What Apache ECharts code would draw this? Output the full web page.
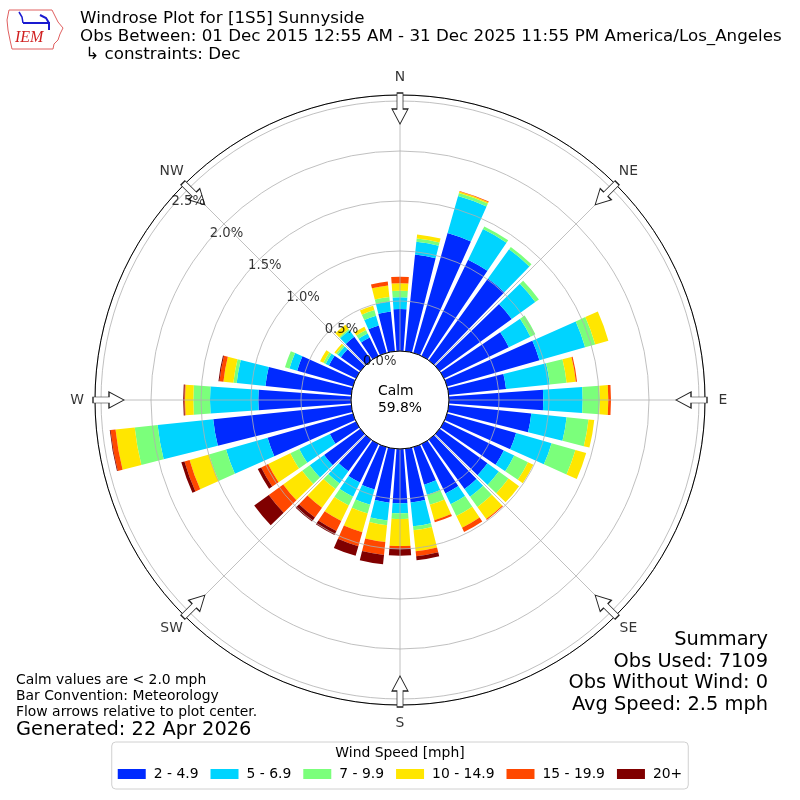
<!DOCTYPE html>
<html><head><meta charset="utf-8">
<script src="https://cdn.jsdelivr.net/npm/echarts@6/dist/echarts.min.js"></script>
<style>html,body{margin:0;padding:0;background:#fff}#c{width:800px;height:800px}</style>
</head><body><div id="c"></div>
<script>
// ---- data (percent of observations) ----
const directions = ['0','10','20','30','40','50','60','70','80','90','100','110','120','130','140','150','160','170',
  '180','190','200','210','220','230','240','250','260','270','280','290','300','310','320','330','340','350'];
const speedBins = ['2 - 4.9','5 - 6.9','7 - 9.9','10 - 14.9','15 - 19.9','20+'];
const binColors = ['#002aff','#00d4ff','#7bff7b','#ffe600','#ff4800','#800000'];
const bin2to5 = [0.42,0.972,1.247,1.07,1.01,0.89,0.72,0.96,0.576,0.943,0.83,0.717,0.664,0.59,0.61,0.55,0.39,0.54,
  0.543,0.542,0.44,0.428,0.39,0.447,0.29,0.887,1.388,0.927,0.863,0.579,0.30,0.24,0.29,0.204,0.284,0.40];
const bin5to7 = [0.117,0.129,0.383,0.34,0.36,0.29,0.24,0.475,0.44,0.394,0.355,0.369,0.116,0.14,0.095,0.12,0.105,0.24,
  0.10,0.18,0.16,0.157,0.15,0.177,0.34,0.432,0.559,0.483,0.289,0.08,0.037,0.04,0.08,0.046,0.102,0.10];
const bin7to10 = [0.066,0.033,0.032,0.03,0.03,0.045,0.055,0.105,0.169,0.173,0.22,0.248,0.153,0.12,0.125,0.13,0.105,0.04,
  0.057,0.047,0.09,0.097,0.07,0.094,0.10,0.177,0.23,0.167,0.033,0.047,0.025,0.02,0.015,0.038,0.059,0.045];
const bin10to15 = [0.074,0.041,0.015,0,0,0,0,0.137,0.093,0.083,0.058,0.112,0.06,0.13,0.15,0.13,0.16,0.21,
  0.27,0.169,0.195,0.172,0.23,0.234,0.246,0.202,0.193,0.083,0.10,0,0.037,0.02,0.055,0.037,0.046,0.117];
const bin15to20 = [0.066,0,0.007,0,0,0,0,0,0.012,0.027,0,0,0,0,0.01,0.047,0.022,0.05,
  0.027,0.129,0.145,0.111,0.12,0.178,0.077,0.053,0.05,0.008,0.04,0,0,0,0,0,0,0.04];
const bin20plus = [0,0,0,0,0,0,0,0,0,0,0,0,0,0,0,0,0,0.04,
  0.07,0.094,0.10,0.046,0.05,0.18,0.038,0.033,0.008,0.01,0.01,0,0,0,0,0,0,0];
const binData = [bin2to5, bin5to7, bin7to10, bin10to15, bin15to20, bin20plus];
const radiusTicks = [0, 0.5, 1.0, 1.5, 2.0, 2.5];
const compassNames = ['N','NE','E','SE','S','SW','W','NW'];
const compassAngles = [0,45,90,135,180,225,270,315];
const calmPct = '59.8%';
const summaryLines = ['Summary','Obs Used: 7109','Obs Without Wind: 0','Avg Speed: 2.5 mph'];
const noteLines = ['Calm values are < 2.0 mph','Bar Convention: Meteorology','Flow arrows relative to plot center.'];
const generated = 'Generated: 22 Apr 2026';
const titleLines = ['Windrose Plot for [1S5] Sunnyside',
  'Obs Between: 01 Dec 2015 12:55 AM - 31 Dec 2025 11:55 PM America/Los_Angeles',
  ' \u21b3 constraints: Dec'];

// ---- layout constants ----
const FONT = 'DejaVu Sans';
const R_IN = 49, R_OUT = 305, R_LAB = 323;
const RMAX = (R_OUT - R_IN) / 100;      // 2.56 %
const RLABMAX = (R_LAB - R_IN) / 100;   // 2.74 %
const RLABEL_ANGLE = 310;
const ARROW_R = 2.425;

const chart = echarts.init(document.getElementById('c'), null, {width: 800, height: 800});

const barSeries = speedBins.map((name, i) => ({
  type: 'bar', name, coordinateSystem: 'polar', polarIndex: 0, stack: 'ws',
  data: binData[i], barCategoryGap: '18%', itemStyle: {color: binColors[i]}, z: 2, silent: true
}));

const option = {
  animation: false,
  backgroundColor: '#fff',
  polar: [
    {center: ['50%','50%'], radius: [R_IN, R_OUT]},
    {center: ['50%','50%'], radius: [R_IN, R_OUT]},
    {center: ['50%','50%'], radius: [R_IN, R_LAB]}
  ],
  angleAxis: [
    {polarIndex: 0, type: 'category', data: directions, startAngle: 95, clockwise: true, boundaryGap: true,
      axisLine: {show: true, lineStyle: {color: '#000', width: 1}}, axisTick: {show: false},
      axisLabel: {show: false}, splitLine: {show: false}, z: 4},
    {polarIndex: 1, type: 'value', min: 0, max: 360, interval: 45, startAngle: 90, clockwise: true,
      axisLine: {show: false}, axisTick: {show: false}, axisLabel: {show: false},
      splitLine: {show: true, lineStyle: {color: '#b0b0b0', width: 0.8}}, z: 3},
    {polarIndex: 2, type: 'value', min: 0, max: 360, startAngle: 90, clockwise: true, show: false}
  ],
  radiusAxis: [
    {polarIndex: 0, min: 0, max: RMAX, interval: 0.5, axisLine: {show: false}, axisTick: {show: false},
      axisLabel: {show: false}, splitLine: {show: true, lineStyle: {color: '#b0b0b0', width: 0.8}}, z: 3},
    {polarIndex: 1, min: 0, max: RMAX, show: false},
    {polarIndex: 2, min: 0, max: RLABMAX, show: false}
  ],
  legend: {
    data: speedBins, left: 'center', top: 742, orient: 'horizontal', icon: 'rect',
    itemWidth: 28, itemHeight: 10, itemGap: 12, padding: [25, 6, 8, 6],
    borderColor: '#d0d0d0', borderWidth: 1, borderRadius: 4, backgroundColor: '#fff',
    selectedMode: false,
    textStyle: {fontSize: 13.9, fontFamily: FONT, color: '#000', padding: [0,0,0,3]}
  },
  series: [
    ...barSeries,
    {
      type: 'scatter', coordinateSystem: 'polar', polarIndex: 2, silent: true, z: 6,
      symbol: 'path://M5,0L11,0L11,16L16,16L8,31L0,16L5,16Z', symbolSize: [16, 31],
      itemStyle: {color: '#fff', borderColor: '#222', borderWidth: 1, opacity: 1},
      data: compassAngles.map(a => ({value: [ARROW_R, a], symbolRotate: -a}))
    },
    {
      type: 'scatter', coordinateSystem: 'polar', polarIndex: 2, silent: true, z: 7,
      symbolSize: 1, itemStyle: {color: 'rgba(0,0,0,0)'},
      label: {show: true, position: 'inside', formatter: '{b}', color: '#000', fontSize: 13.9, fontFamily: FONT,
        align: 'center', verticalAlign: 'middle'},
      data: compassNames.map((n, i) => ({name: n, value: [RLABMAX, compassAngles[i]]}))
    },
    {
      type: 'scatter', coordinateSystem: 'polar', polarIndex: 2, silent: true, z: 7,
      symbolSize: 1, itemStyle: {color: 'rgba(0,0,0,0)'},
      label: {show: true, position: [1, -6], formatter: '{b}', color: '#000', fontSize: 13.2, fontFamily: FONT,
        align: 'left', verticalAlign: 'middle'},
      data: radiusTicks.map(v => ({name: v.toFixed(1) + '%', value: [v, RLABEL_ANGLE]}))
    }
  ],
  graphic: [
    {type: 'text', x: 80, y: 10, z: 100, style: {text: titleLines.join('\n'), fontSize: 16.7, fontFamily: FONT,
      lineHeight: 18, fill: '#000', verticalAlign: 'top', align: 'left'}},
    {type: 'text', left: 'center', top: 'middle', z: 100, style: {text: 'Calm\n' + calmPct, fontSize: 13.9,
      fontFamily: FONT, lineHeight: 17, fill: '#000', align: 'center'}},
    {type: 'text', x: 16, y: 672, z: 100, style: {text: noteLines.join('\n'), fontSize: 13.9, fontFamily: FONT,
      lineHeight: 16, fill: '#000', verticalAlign: 'top', align: 'left'}},
    {type: 'text', x: 16, y: 730, z: 100, style: {text: generated, fontSize: 19.4, fontFamily: FONT,
      fill: '#000', verticalAlign: 'middle', align: 'left'}},
    {type: 'text', x: 768, y: 629, z: 100, style: {text: summaryLines.join('\n'), fontSize: 19.4, fontFamily: FONT,
      lineHeight: 21.7, fill: '#000', verticalAlign: 'top', align: 'right'}},
    {type: 'text', x: 400, y: 753, z: 100, style: {text: 'Wind Speed [mph]', fontSize: 13.9, fontFamily: FONT,
      fill: '#000', verticalAlign: 'middle', align: 'center'}},
    // IEM logo (approximation)
    {type: 'polygon', z: 100, shape: {points: [[9,10],[52,10],[55,16],[58,22],[63,28],[60,34],[58,40],[54,44],[53,49],[12,49],[10,40],[8,30],[7,20]]},
      style: {fill: 'none', stroke: '#e06060', lineWidth: 1}},
    {type: 'polyline', z: 100, shape: {points: [[23,23],[50,23]]}, style: {stroke: '#1a1ad0', lineWidth: 2}},
    {type: 'polyline', z: 100, shape: {points: [[19,12],[22,17],[23,23]]}, style: {stroke: '#1a1ad0', lineWidth: 1.5, fill: 'none'}},
    {type: 'polyline', z: 100, shape: {points: [[40,15],[46,18],[49,23],[49,30]]}, style: {stroke: '#1a1ad0', lineWidth: 2, fill: 'none'}},
    {type: 'text', x: 15, y: 46, z: 100, style: {text: 'IEM', fontSize: 16, fontStyle: 'italic',
      fontFamily: 'Liberation Serif', fill: '#d02020', verticalAlign: 'bottom', align: 'left'}}
  ]
};
chart.setOption(option);
</script>
</body></html>
